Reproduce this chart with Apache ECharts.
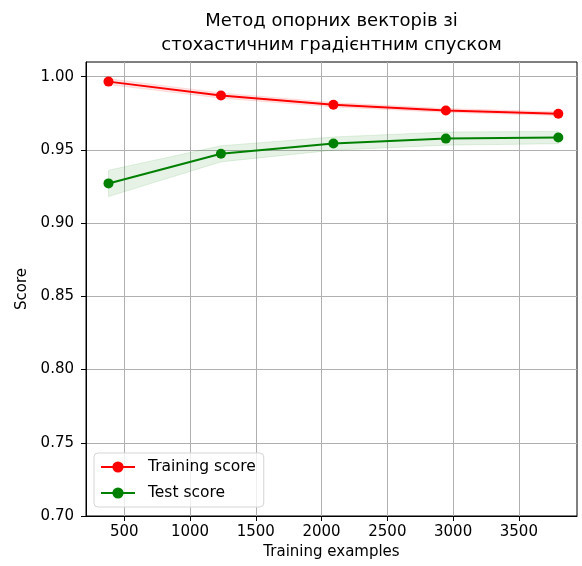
<!DOCTYPE html>
<html>
<head>
<meta charset="utf-8">
<script src="https://cdn.jsdelivr.net/npm/echarts@6/dist/echarts.min.js"></script>
<style>
  html, body { margin: 0; padding: 0; background: #fff; }
  #chart { width: 582px; height: 566px; }
</style>
</head>
<body>
<div id="chart"></div>
<script>
// Learning curve: SGD-trained linear SVM
const trainSizes = [380, 1235, 2090, 2945, 3800];
const trainMean = [0.9966, 0.9871, 0.9808, 0.9769, 0.9747];
const trainStd  = [0.0020, 0.0018, 0.0015, 0.0013, 0.0013];
const testMean  = [0.9271, 0.9473, 0.9543, 0.9577, 0.9584];
const testStd   = [0.0090, 0.0055, 0.0045, 0.0045, 0.0042];
const xTicks = [500, 1000, 1500, 2000, 2500, 3000, 3500];
const yTicks = [0.70, 0.75, 0.80, 0.85, 0.90, 0.95, 1.00];

const FONT = 'DejaVu Sans';

const pairs = (xs, ys) => xs.map((x, i) => [x, ys[i]]);

// Shaded ±1 std band drawn as one polygon through the axis scales
function band(name, mean, std, color) {
  const rows = trainSizes.map((x, i) => [x, mean[i] - std[i], mean[i] + std[i]]);
  return {
    name: name, type: 'custom', silent: true, z: 1,
    data: rows,
    encode: { x: 0, y: [1, 2] },
    renderItem: (params, api) => {
      if (params.dataIndex !== 0) return null;
      const top = rows.map(r => api.coord([r[0], r[2]]));
      const bottom = rows.map(r => api.coord([r[0], r[1]])).reverse();
      return {
        type: 'polygon',
        shape: { points: top.concat(bottom) },
        style: { fill: color, stroke: color, lineWidth: 1 }
      };
    }
  };
}

const chart = echarts.init(document.getElementById('chart'), null, { renderer: 'canvas' });

chart.setOption({
  animation: false,
  backgroundColor: '#fff',
  graphic: [
    { type: 'text', x: 331.5, y: 21, style: { text: 'Метод опорних векторів зі', font: '18px "DejaVu Sans"', fill: '#000', textAlign: 'center', textVerticalAlign: 'middle' } },
    { type: 'text', x: 331.5, y: 45, style: { text: 'стохастичним градієнтним спуском', font: '18px "DejaVu Sans"', fill: '#000', textAlign: 'center', textVerticalAlign: 'middle' } }
  ],
  grid: {
    left: 86, right: 5, top: 62, bottom: 50,
    show: true, borderColor: '#000', borderWidth: 1, backgroundColor: 'transparent'
  },
  legend: {
    data: ['Training score', 'Test score'],
    orient: 'vertical',
    left: 94, top: 453,
    padding: [6, 8, 6, 6],
    itemWidth: 34, itemHeight: 14, itemGap: 10,
    backgroundColor: 'rgba(255,255,255,0.8)',
    borderColor: '#d5d5d5', borderWidth: 1, borderRadius: 4,
    textStyle: { fontFamily: FONT, fontSize: 15.5, color: '#000', padding: [0, 0, 0, 8] }
  },
  xAxis: {
    type: 'value', min: 209, max: 3942,
    name: 'Training examples', nameLocation: 'middle', nameGap: 29,
    nameTextStyle: { fontFamily: FONT, fontSize: 15, color: '#000' },
    axisLine: { show: true, onZero: false, lineStyle: { color: '#000', width: 1 } },
    axisTick: { show: true, length: 5, customValues: xTicks, lineStyle: { color: '#000' } },
    axisLabel: { customValues: xTicks, margin: 9, fontFamily: FONT, fontSize: 15, color: '#000',
      formatter: v => String(v) },
    splitLine: { show: true, lineStyle: { color: '#b0b0b0', width: 1 } }
  },
  yAxis: {
    type: 'value', min: 0.70, max: 1.01,
    name: 'Score', nameLocation: 'middle', nameGap: 56,
    nameTextStyle: { fontFamily: FONT, fontSize: 15, color: '#000' },
    axisLine: { show: true, onZero: false, lineStyle: { color: '#000', width: 1 } },
    axisTick: { show: true, length: 5, customValues: yTicks, lineStyle: { color: '#000' } },
    axisLabel: { customValues: yTicks, margin: 12, fontFamily: FONT, fontSize: 15, color: '#000',
      formatter: v => v.toFixed(2) },
    splitLine: { show: true, lineStyle: { color: '#b0b0b0', width: 1 } }
  },
  series: [
    band('train-band', trainMean, trainStd, 'rgba(255,0,0,0.1)'),
    band('test-band', testMean, testStd, 'rgba(0,128,0,0.1)'),
    {
      name: 'Training score', type: 'line', data: pairs(trainSizes, trainMean),
      symbol: 'circle', symbolSize: 10, z: 3,
      lineStyle: { color: '#ff0000', width: 2 }, itemStyle: { color: '#ff0000' }
    },
    {
      name: 'Test score', type: 'line', data: pairs(trainSizes, testMean),
      symbol: 'circle', symbolSize: 10, z: 3,
      lineStyle: { color: '#008000', width: 2 }, itemStyle: { color: '#008000' }
    }
  ]
});
</script>
</body>
</html>
